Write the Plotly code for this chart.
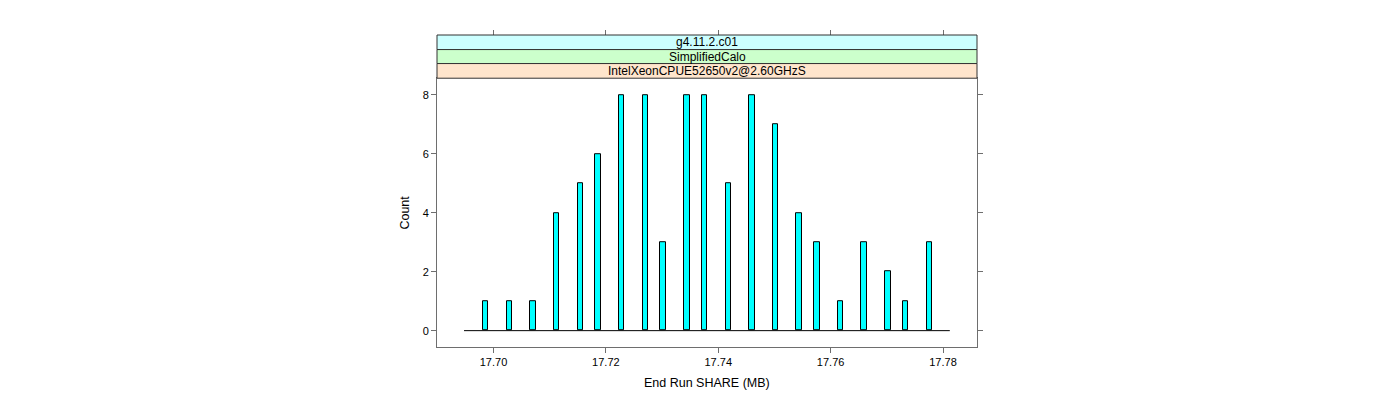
import plotly.graph_objects as go

# ---- data ----
bin_centers = [17.69858, 17.70285, 17.70703, 17.71121, 17.71548, 17.71859, 17.72278,
               17.72705, 17.73016, 17.73443, 17.73754, 17.74181, 17.74600, 17.75018,
               17.75436, 17.75756, 17.76174, 17.76593, 17.77020, 17.77331, 17.77758]
counts = [1, 1, 1, 4, 5, 6, 8, 8, 3, 8, 8, 5, 8, 7, 4, 3, 1, 3, 2, 1, 3]
bin_width = 0.001
hist_range = [17.69475, 17.78121]   # span of all (mostly empty) histogram bins
x_ticks = [17.70, 17.72, 17.74, 17.76, 17.78]
x_tick_labels = ["17.70", "17.72", "17.74", "17.76", "17.78"]
y_ticks = [0, 2, 4, 6, 8]
strip_labels = ["g4.11.2.c01", "SimplifiedCalo", "IntelXeonCPUE52650v2@2.60GHzS"]
strip_colors = ["#CCFFFF", "#CCFFCC", "#FFE5CC"]
x_title = "End Run SHARE (MB)"
y_title = "Count"

FONT = "Liberation Sans, Arial, Helvetica, sans-serif"
AXCOL = "#6e6e6e"
x_range = [17.68994, 17.78605]
y_range = [-0.555, 8.565]

fig = go.Figure()
# baseline made by the empty bins
fig.add_trace(go.Scatter(x=hist_range, y=[0, 0], mode="lines",
                         line=dict(color="black", width=1), hoverinfo="skip",
                         showlegend=False))
fig.add_trace(go.Bar(x=bin_centers, y=counts, width=bin_width,
                     marker=dict(color="#00FFFF", line=dict(color="black", width=1)),
                     showlegend=False))
# invisible trace to make the top (tick-only) axis exist
fig.add_trace(go.Scatter(x=[x_range[0]], y=[None], xaxis="x2", mode="markers",
                         marker=dict(opacity=0), hoverinfo="skip", showlegend=False))

dom_top = 0.8615
fig.update_layout(
    width=1392, height=392,
    margin=dict(l=429, r=423, t=26.7, b=52.6, autoexpand=False),
    paper_bgcolor="white", plot_bgcolor="white",
    font=dict(family=FONT, size=11, color="black"),
    bargap=0,
    xaxis=dict(range=x_range, tickvals=x_ticks, ticktext=x_tick_labels,
               ticks="outside", ticklen=5, tickwidth=1, tickcolor=AXCOL,
               showline=True, linecolor=AXCOL, linewidth=1, mirror=True,
               showgrid=False, zeroline=False, tickfont=dict(size=11)),
    xaxis2=dict(range=x_range, tickvals=x_ticks, showticklabels=False,
                overlaying="x", side="top", anchor="free", position=1,
                ticks="outside", ticklen=5, tickwidth=1, tickcolor=AXCOL,
                showline=False, showgrid=False, zeroline=False),
    yaxis=dict(range=y_range, domain=[0, dom_top], tickvals=y_ticks,
               ticks="outside", ticklen=5, tickwidth=1, tickcolor=AXCOL,
               showline=True, linecolor=AXCOL, linewidth=1, mirror="ticks",
               showgrid=False, zeroline=False, tickfont=dict(size=11)),
)

# strips
strip_edges = [1.0, 0.9533, 0.9085, dom_top]
for i, (lab, col) in enumerate(zip(strip_labels, strip_colors)):
    y1, y0 = strip_edges[i], strip_edges[i + 1]
    fig.add_shape(type="rect", xref="paper", yref="paper", x0=0, x1=1, y0=y0, y1=y1,
                  fillcolor=col, line=dict(color="#333333", width=1), layer="above")
    fig.add_annotation(text=lab, xref="paper", yref="paper", x=0.5, y=(y0 + y1) / 2,
                       showarrow=False, font=dict(size=12, family=FONT, color="black"),
                       xanchor="center", yanchor="middle")

fig.add_annotation(text=x_title, xref="paper", yref="paper", x=0.5, y=-0.1138,
                   showarrow=False, font=dict(size=12.5, family=FONT),
                   xanchor="center", yanchor="middle")
fig.add_annotation(text=y_title, xref="paper", yref="paper", x=-0.0593, y=dom_top / 2,
                   showarrow=False, textangle=-90, font=dict(size=12.5, family=FONT),
                   xanchor="center", yanchor="middle")

fig.write_html("out.html")
